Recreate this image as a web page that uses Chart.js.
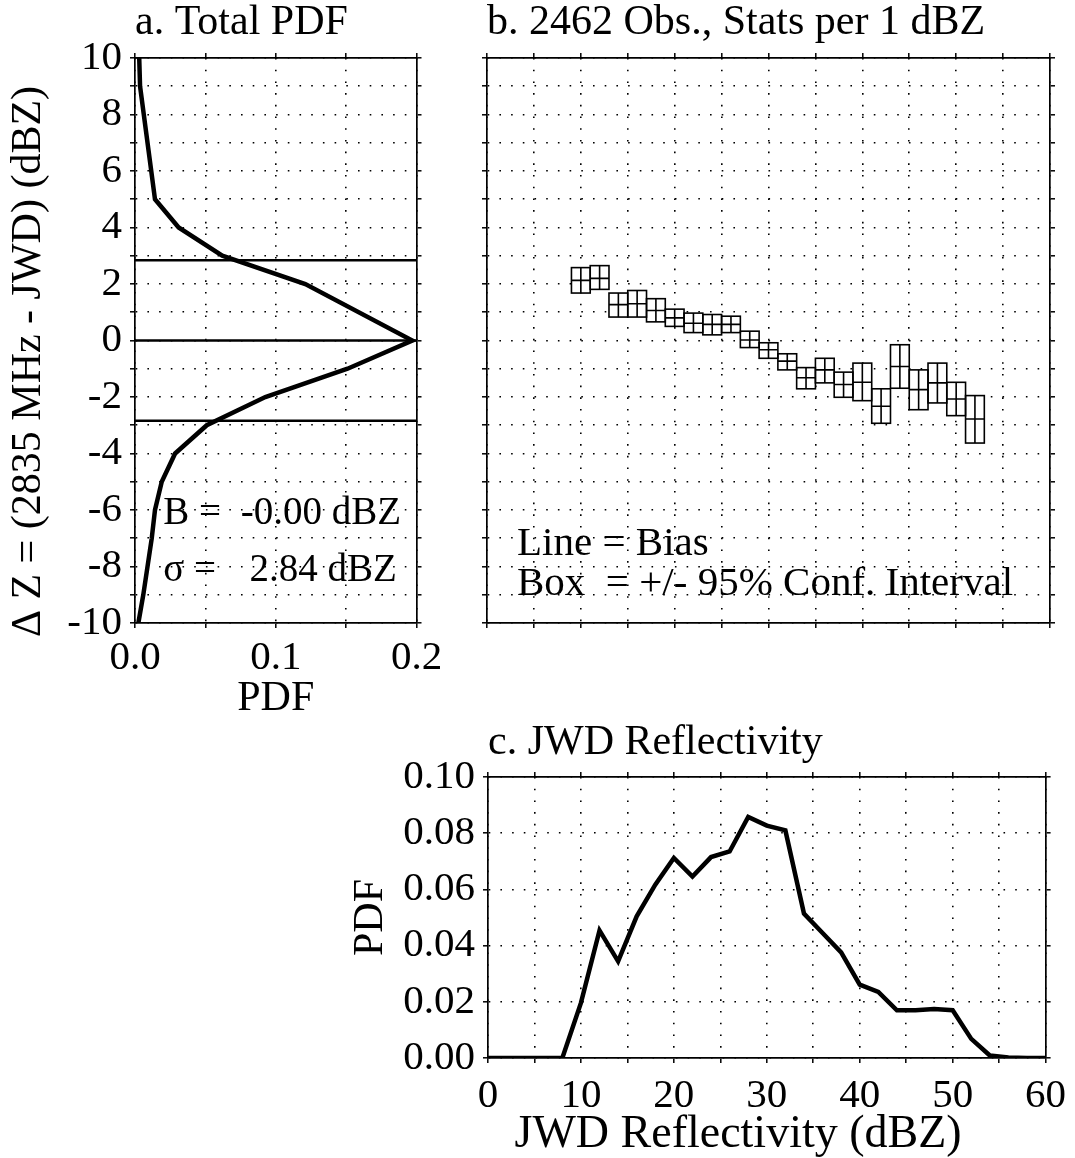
<!DOCTYPE html>
<html>
<head>
<meta charset="utf-8">
<title>2835 MHz vs JWD reflectivity</title>
<script src="https://cdn.jsdelivr.net/npm/chart.js@4.4.1/dist/chart.umd.min.js"></script>
<style>
  html, body { margin: 0; padding: 0; background: #fff; }
  body { width: 1075px; height: 1158px; position: relative; overflow: hidden; }
  canvas { position: absolute; }
  #panelA { left: 0; top: 0; }
  #panelB { left: 470px; top: 0; }
  #panelC { left: 340px; top: 720px; }
</style>
</head>
<body>
<canvas id="panelA" width="470" height="740"></canvas>
<canvas id="panelB" width="605" height="740"></canvas>
<canvas id="panelC" width="735" height="438"></canvas>
<script>
// a. total pdf of the difference (dBZ levels, pdf value at each)
const dzLevels = [10, 9, 5, 4, 3, 2, 0, -1, -2, -3, -4, -5, -6, -7, -9, -10];
const dzPdf = [0.003, 0.0036, 0.0142, 0.031, 0.062, 0.121, 0.197, 0.151, 0.0926, 0.051, 0.0285, 0.019, 0.0142, 0.0119, 0.0059, 0.0024];
const dzBias = -0.001;
const dzSigma = 2.84;

// b. bias and 95% interval per JWD reflectivity bin
const binCenters = [10, 12, 14, 16, 18, 20, 22, 24, 26, 28, 30, 32, 34, 36, 38, 40, 42, 44, 46, 48, 50, 52];
const binBias = [2.13, 2.2, 1.27, 1.3, 1.06, 0.8, 0.61, 0.57, 0.57, 0.02, -0.33, -0.73, -1.32, -1.04, -1.56, -1.48, -2.33, -0.92, -1.74, -1.5, -2.07, -2.78];
const binLow = [1.68, 1.81, 0.83, 0.83, 0.66, 0.5, 0.28, 0.2, 0.28, -0.25, -0.63, -1.04, -1.71, -1.5, -2.01, -2.13, -2.93, -1.69, -2.45, -2.21, -2.66, -3.63];
const binHigh = [2.58, 2.65, 1.68, 1.77, 1.48, 1.11, 0.97, 0.92, 0.86, 0.33, -0.08, -0.47, -0.96, -0.63, -1.12, -0.8, -1.71, -0.15, -1.04, -0.8, -1.48, -1.95];

// c. pdf of JWD reflectivity
const reflBins = [0, 2, 4, 6, 8, 10, 12, 14, 16, 18, 20, 22, 24, 26, 28, 30, 32, 34, 36, 38, 40, 42, 44, 46, 48, 50, 52, 54, 56, 58, 60];
const reflPdf = [0, 0, 0, 0, 0, 0.0196, 0.0454, 0.0344, 0.0504, 0.0617, 0.0712, 0.0646, 0.0715, 0.0735, 0.0858, 0.0827, 0.081, 0.0514, 0.0445, 0.0376, 0.0261, 0.0235, 0.017, 0.017, 0.0174, 0.017, 0.0068, 0.0009, 0.0002, 0, 0];

// axis ranges and tick steps
const pdfAxis = [0, 0.2, 0.05];
const dzAxis = [-10, 10, 1];
const reflAxis = [0, 60, 5];
const reflPdfAxis = [0, 0.1, 0.02];

const FONT = '"Liberation Serif", "Times New Roman", Times, serif';
Chart.defaults.font.family = FONT;
Chart.defaults.color = '#000';

function frameScale(position, range, size, tickOpts, title) {
  const horizontal = position === 'top' || position === 'bottom';
  const main = position === 'bottom' || position === 'left';
  const scale = {
    type: 'linear',
    position: position,
    min: range[0],
    max: range[1],
    offset: false,
    ticks: Object.assign({ stepSize: range[2], display: false, autoSkip: false, maxRotation: 0, font: { size: 41 } }, tickOpts || {}),
    grid: { display: true, offset: false, drawOnChartArea: main, color: '#000', lineWidth: 1.6,
      drawTicks: true, tickLength: 5, tickWidth: 1.5, tickColor: '#000' },
    border: { display: true, color: '#000', width: 1.7, dash: [1.6, 10.1] },
    afterFit: (s) => {
      if (horizontal) s.height = size; else s.width = size;
    }
  };
  if (title) scale.title = title;
  return scale;
}

function panelTitle(text, padTop, padBottom) {
  return {
    display: true, text: text, align: 'start', fullSize: false,
    font: { size: 42, weight: 'normal', lineHeight: 1 },
    padding: { top: padTop, bottom: padBottom }
  };
}

const baseOptions = {
  responsive: false,
  animation: false,
  events: []
};

// text inside panel a
const statsText = {
  id: 'statsText',
  afterDraw(chart) {
    const { ctx } = chart;
    const xs = chart.scales.x;
    const ys = chart.scales.y;
    ctx.save();
    ctx.fillStyle = '#000';
    ctx.font = '39px ' + FONT;
    ctx.textBaseline = 'alphabetic';
    ctx.textAlign = 'left';
    ctx.fillText('B =', xs.getPixelForValue(0.02), ys.getPixelForValue(-6.5));
    ctx.fillText('\u03c3 =', xs.getPixelForValue(0.02), ys.getPixelForValue(-8.5));
    ctx.textAlign = 'right';
    ctx.fillText(dzBias.toFixed(2) + ' dBZ', xs.getPixelForValue(0.189), ys.getPixelForValue(-6.5));
    ctx.fillText(dzSigma.toFixed(2) + ' dBZ', xs.getPixelForValue(0.186), ys.getPixelForValue(-8.5));
    ctx.restore();
  }
};

new Chart(document.getElementById('panelA'), {
  type: 'scatter',
  data: {
    datasets: [
      { data: dzLevels.map((d, i) => ({ x: dzPdf[i], y: d })), showLine: true,
        borderColor: '#000', borderWidth: 4.5, pointRadius: 0 },
      { data: [{ x: pdfAxis[0], y: dzSigma }, { x: pdfAxis[1], y: dzSigma }], showLine: true,
        borderColor: '#000', borderWidth: 2.4, pointRadius: 0 },
      { data: [{ x: pdfAxis[0], y: dzBias }, { x: pdfAxis[1], y: dzBias }], showLine: true,
        borderColor: '#000', borderWidth: 2.4, pointRadius: 0 },
      { data: [{ x: pdfAxis[0], y: -dzSigma }, { x: pdfAxis[1], y: -dzSigma }], showLine: true,
        borderColor: '#000', borderWidth: 2.4, pointRadius: 0 }
    ]
  },
  options: Object.assign({}, baseOptions, {
    layout: { autoPadding: false, padding: { left: 0, top: 0, right: 48.5, bottom: 0 } },
    plugins: { legend: { display: false }, tooltip: { enabled: false },
      title: panelTitle('a. Total PDF', 2.1, 8.9) },
    scales: {
      x: frameScale('bottom', pdfAxis, 117, {
        display: true, padding: 5.7,
        callback: (v) => (Math.abs(v * 10 - Math.round(v * 10)) < 1e-6 ? v.toFixed(1) : '')
      }, { display: true, text: 'PDF', font: { size: 42, lineHeight: 1 }, padding: { top: 0, bottom: 20 } }),
      xTop: frameScale('top', pdfAxis, 5),
      y: frameScale('left', dzAxis, 135, {
        display: true, padding: 8,
        callback: (v) => (v % 2 === 0 ? String(v) : '')
      }, { display: true, text: '\u0394 Z = (2835 MHz - JWD) (dBZ)    ', font: { size: 42, lineHeight: 1 }, padding: { top: 7.8, bottom: 0 } }),
      yRight: frameScale('right', dzAxis, 5)
    }
  }),
  plugins: [statsText]
});

// box outline, bias line and centre line for every bin
const binBoxes = {
  id: 'binBoxes',
  afterDatasetsDraw(chart) {
    const { ctx } = chart;
    const ys = chart.scales.y;
    const meta = chart.getDatasetMeta(0);
    ctx.save();
    ctx.strokeStyle = '#000';
    ctx.lineWidth = 1.6;
    meta.data.forEach((bar, i) => {
      const half = bar.width / 2;
      const top = Math.min(bar.y, bar.base);
      const bottom = Math.max(bar.y, bar.base);
      const mid = ys.getPixelForValue(binBias[i]);
      ctx.strokeRect(bar.x - half, top, bar.width, bottom - top);
      ctx.beginPath();
      ctx.moveTo(bar.x, top);
      ctx.lineTo(bar.x, bottom);
      ctx.moveTo(bar.x - half, mid);
      ctx.lineTo(bar.x + half, mid);
      ctx.stroke();
    });
    ctx.restore();
  },
  afterDraw(chart) {
    const { ctx } = chart;
    const xs = chart.scales.x;
    const ys = chart.scales.y;
    ctx.save();
    ctx.fillStyle = '#000';
    ctx.font = '41px ' + FONT;
    ctx.textAlign = 'left';
    ctx.textBaseline = 'alphabetic';
    ctx.fillText('Line = Bias', xs.getPixelForValue(3.2), ys.getPixelForValue(-7.6));
    ctx.fillText('Box  = +/- 95% Conf. Interval', xs.getPixelForValue(3.2), ys.getPixelForValue(-9.0));
    ctx.restore();
  }
};

new Chart(document.getElementById('panelB'), {
  type: 'bar',
  data: {
    datasets: [{
      data: binCenters.map((c, i) => ({ x: c, y: [binLow[i], binHigh[i]] })),
      backgroundColor: '#fff',
      borderWidth: 0,
      borderSkipped: false,
      inflateAmount: 0,
      barPercentage: 1,
      categoryPercentage: 1
    }]
  },
  options: Object.assign({}, baseOptions, {
    layout: { autoPadding: false, padding: { left: 0, top: 0, right: 20, bottom: 112 } },
    plugins: { legend: { display: false }, tooltip: { enabled: false },
      title: panelTitle('b. 2462 Obs., Stats per 1 dBZ', 2.1, 8.9) },
    scales: {
      x: frameScale('bottom', reflAxis, 5),
      xTop: frameScale('top', reflAxis, 5),
      y: frameScale('left', dzAxis, 17),
      yRight: frameScale('right', dzAxis, 5)
    }
  }),
  plugins: [binBoxes]
});

new Chart(document.getElementById('panelC'), {
  type: 'scatter',
  data: {
    datasets: [{
      data: reflBins.map((b, i) => ({ x: b, y: reflPdf[i] })),
      showLine: true, borderColor: '#000', borderWidth: 4.5, pointRadius: 0
    }]
  },
  options: Object.assign({}, baseOptions, {
    layout: { autoPadding: false, padding: { left: 0, top: 0, right: 20, bottom: 0 } },
    plugins: { legend: { display: false }, tooltip: { enabled: false },
      title: panelTitle('c. JWD Reflectivity', 1.5, 8.5) },
    scales: {
      x: frameScale('bottom', reflAxis, 100, {
        display: true, padding: 8.9,
        callback: (v) => (v % 10 === 0 ? String(v) : '')
      }, { display: true, text: 'JWD Reflectivity (dBZ)     ', font: { size: 46, lineHeight: 1 }, padding: { top: 0, bottom: 0 } }),
      xTop: frameScale('top', reflAxis, 5),
      y: frameScale('left', reflPdfAxis, 148, {
        display: true, padding: 8,
        callback: (v) => v.toFixed(2)
      }, { display: true, text: 'PDF', font: { size: 42, lineHeight: 1 }, padding: { top: 9.8, bottom: 0 } }),
      yRight: frameScale('right', reflPdfAxis, 5)
    }
  })
});
</script>
</body>
</html>
